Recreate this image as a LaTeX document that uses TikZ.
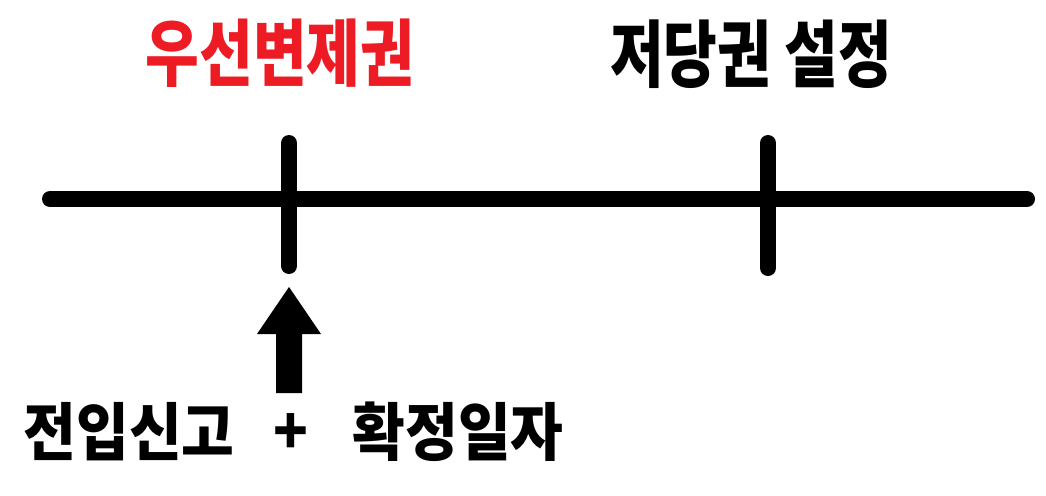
\documentclass[tikz,border=0pt]{standalone}
\usepackage{fontspec}
\newfontfamily\cjk{Noto Sans CJK KR}
\definecolor{hred}{HTML}{ED1C24}
\begin{document}
\begin{tikzpicture}[x=1pt,y=-1pt,
  bar/.style={line width=16pt,line cap=round},
  lbl/.style={font=\cjk\bfseries\fontsize{73}{73}\selectfont,inner sep=0pt,anchor=center,xscale=0.8},
  lblb/.style={font=\cjk\bfseries\fontsize{63}{63}\selectfont,inner sep=0pt,anchor=center,xscale=0.91}]
\useasboundingbox (0,0) rectangle (1046,495);
\coordinate (L) at (50,199);
\coordinate (R) at (1027,199);
\coordinate (t1a) at (289,143);
\coordinate (t1b) at (289,266);
\coordinate (t2a) at (768,143);
\coordinate (t2b) at (768,268);
\draw[bar] (L) -- (R);
\draw[bar] (t1a) -- (t1b);
\draw[bar] (t2a) -- (t2b);
\fill (289,287) coordinate (tip) -- (321,334) -- (302,334) -- (302,393) -- (276,393) -- (276,334) -- (257,334) -- cycle;
\node[lbl,text=hred] (pri) at (280,53) {우선변제권};
\node[lbl] (mort) at (751,54) {저당권 설정};
\node[lblb] (move) at (129,432) {전입신고};
\node[lblb] (plus) at (291,434) {+};
\node[lblb] (date) at (458,432) {확정일자};
\end{tikzpicture}
\end{document}
